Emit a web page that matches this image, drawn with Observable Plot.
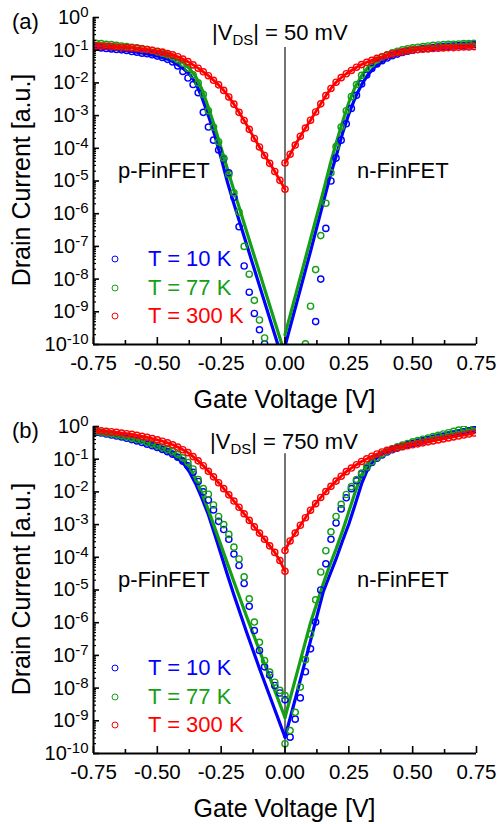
<!DOCTYPE html>
<html><head><meta charset="utf-8">
<script src="https://cdn.jsdelivr.net/npm/d3@7"></script>
<script src="https://cdn.jsdelivr.net/npm/@observablehq/plot@0.6"></script>
<style>
body{margin:0;background:#fff;}
#fig{position:relative;width:499px;height:824px;overflow:hidden;font-family:"Liberation Sans",Arial,sans-serif;color:#000;}
.panel{position:absolute;left:0;}
.t{position:absolute;white-space:nowrap;line-height:1;font-size:22px;}
.ttl{position:absolute;white-space:nowrap;line-height:1;font-size:25px;transform:translate(-50%,-50%);}
.ttl.rot{transform:translate(-50%,-50%) rotate(-90deg);}
.sub{font-size:15px;position:relative;top:5px;}
.lg{position:absolute;width:5px;height:5px;border-radius:50%;border:1.4px solid;transform:translate(-50%,-50%);}
</style>
</head><body>
<div id="fig">
  <div id="pa" class="panel" style="top:0px"></div>
  <div id="pb" class="panel" style="top:410px"></div>
</div>
<script>
// ---------- tick labels ----------
const xMajor = [-0.75, -0.5, -0.25, 0, 0.25, 0.5, 0.75];
const xMinor = [-0.625, -0.375, -0.125, 0.125, 0.375, 0.625];
const yMajorExp = [0, -1, -2, -3, -4, -5, -6, -7, -8, -9, -10];
const yMinorMant = [2, 3, 4, 5, 6, 7, 8, 9];

// ---------- gate voltage grids ----------
const vP = [-0.74,-0.72,-0.70,-0.68,-0.66,-0.64,-0.62,-0.60,-0.58,-0.56,-0.54,-0.52,-0.50,-0.48,-0.46,-0.44,-0.42,-0.40,-0.38,-0.36,-0.34,-0.32,-0.30,-0.28,-0.26,-0.24,-0.22,-0.20,-0.18,-0.16,-0.14,-0.12,-0.10,-0.08,-0.06,-0.04,-0.02,0.00];
const vN = [0.00,0.02,0.04,0.06,0.08,0.10,0.12,0.14,0.16,0.18,0.20,0.22,0.24,0.26,0.28,0.30,0.32,0.34,0.36,0.38,0.40,0.42,0.44,0.46,0.48,0.50,0.52,0.54,0.56,0.58,0.60,0.62,0.64,0.66,0.68,0.70,0.72,0.74];
const lineVP = [-0.75,-0.70,-0.65,-0.60,-0.55,-0.50,-0.45,-0.40,-0.375,-0.35,-0.325,-0.30,-0.275,-0.25,-0.225,-0.20,-0.15,-0.10,-0.05,0];
const lineVN = [0,0.05,0.10,0.15,0.175,0.20,0.225,0.25,0.275,0.30,0.325,0.35,0.375,0.40,0.45,0.50,0.55,0.60,0.65,0.70,0.75];

// ---------- panel (a): |VDS| = 50 mV, log10(drain current) ----------
const aRedP = [-0.86,-0.87,-0.88,-0.89,-0.90,-0.91,-0.92,-0.93,-0.945,-0.96,-0.98,-1.00,-1.03,-1.06,-1.10,-1.14,-1.20,-1.27,-1.35,-1.45,-1.55,-1.66,-1.78,-1.92,-2.06,-2.23,-2.43,-2.65,-2.90,-3.15,-3.42,-3.70,-3.96,-4.22,-4.46,-4.71,-4.98,-5.25];
const aRedN = [-4.45,-4.18,-3.90,-3.63,-3.38,-3.14,-2.89,-2.64,-2.39,-2.17,-1.98,-1.84,-1.72,-1.62,-1.52,-1.44,-1.37,-1.31,-1.25,-1.20,-1.15,-1.11,-1.08,-1.05,-1.02,-1.00,-0.98,-0.97,-0.96,-0.95,-0.94,-0.93,-0.92,-0.92,-0.91,-0.90,-0.90,-0.89];
const aBlueP = [-0.91,-0.93,-0.95,-0.96,-0.98,-0.99,-1.01,-1.04,-1.06,-1.09,-1.11,-1.14,-1.18,-1.22,-1.28,-1.36,-1.48,-1.65,-1.85,-2.05,-2.3,-2.9,-3.35,-3.75,-4.05,-4.32,-4.75,-5.5,-6.4,-7.6,-8.4,-9.05,-9.55,-9.98,null,null,null,null];
const aBlueN = [null,null,null,null,null,null,-9.3,-8.0,-6.45,-5.0,-4.3,-3.75,-3.25,-2.78,-2.38,-2.03,-1.76,-1.56,-1.42,-1.32,-1.24,-1.17,-1.12,-1.07,-1.03,-1.00,-0.98,-0.95,-0.94,-0.92,-0.90,-0.89,-0.88,-0.87,-0.86,-0.85,-0.84,-0.83];
const aGreenP = [-0.79,-0.80,-0.82,-0.83,-0.85,-0.87,-0.89,-0.91,-0.93,-0.96,-0.98,-1.01,-1.05,-1.09,-1.14,-1.21,-1.29,-1.40,-1.55,-1.75,-2.0,-2.35,-2.85,-3.35,-3.8,-4.3,-4.8,-5.36,-5.95,-7.0,-7.85,-8.65,-9.25,-9.8,null,null,null,null];
const aGreenN = [null,null,null,null,-9.98,-8.83,-7.71,-6.67,-5.68,-4.75,-3.95,-3.35,-2.85,-2.42,-2.05,-1.77,-1.56,-1.42,-1.30,-1.21,-1.14,-1.08,-1.03,-0.99,-0.96,-0.93,-0.91,-0.89,-0.87,-0.85,-0.84,-0.83,-0.82,-0.82,-0.81,-0.80,-0.80,-0.79];
const aBlueLineP = [-0.91,-0.95,-0.99,-1.04,-1.10,-1.18,-1.30,-1.55,-1.72,-2.0,-2.45,-3.0,-3.6,-4.3,-5.05,-5.7,-6.95,-8.2,-9.45,-10.7];
const aBlueLineN = [-10.05,-8.6,-7.15,-5.65,-4.9,-4.25,-3.55,-2.95,-2.45,-2.05,-1.75,-1.52,-1.37,-1.25,-1.10,-1.00,-0.94,-0.90,-0.87,-0.85,-0.83];
const aGreenLineP = [-0.79,-0.82,-0.86,-0.91,-0.97,-1.05,-1.17,-1.38,-1.55,-1.8,-2.2,-2.75,-3.35,-4.0,-4.65,-5.29,-6.55,-7.8,-9.05,-10.3];
const aGreenLineN = [-9.7,-8.24,-6.78,-5.32,-4.55,-3.85,-3.2,-2.6,-2.12,-1.78,-1.52,-1.36,-1.24,-1.14,-1.01,-0.93,-0.88,-0.84,-0.82,-0.80,-0.79];

// ---------- panel (b): |VDS| = 750 mV ----------
const bRedP = [-0.12,-0.13,-0.15,-0.16,-0.18,-0.20,-0.22,-0.24,-0.27,-0.30,-0.33,-0.37,-0.41,-0.45,-0.50,-0.56,-0.63,-0.71,-0.80,-0.92,-1.05,-1.20,-1.37,-1.54,-1.72,-1.90,-2.09,-2.28,-2.47,-2.67,-2.87,-3.07,-3.26,-3.45,-3.65,-3.85,-4.10,-4.43];
const bRedN = [-3.79,-3.50,-3.26,-3.02,-2.79,-2.56,-2.36,-2.17,-1.99,-1.83,-1.67,-1.52,-1.38,-1.27,-1.17,-1.07,-0.99,-0.91,-0.84,-0.78,-0.73,-0.69,-0.65,-0.62,-0.59,-0.56,-0.53,-0.50,-0.47,-0.44,-0.41,-0.38,-0.35,-0.32,-0.29,-0.26,-0.23,-0.20];
const bBlueP = [-0.18,-0.20,-0.23,-0.26,-0.29,-0.32,-0.36,-0.40,-0.44,-0.49,-0.54,-0.59,-0.64,-0.70,-0.77,-0.85,-0.94,-1.06,-1.20,-1.40,-1.68,-2.0,-2.25,-2.55,-2.9,-3.15,-3.45,-3.9,-4.25,-4.8,-5.5,-6.24,-6.85,-7.35,-7.6,-7.92,-8.15,-8.36];
const bBlueN = [null,-9.5,-8.95,-8.3,-7.5,-6.8,-5.98,-5.0,-4.2,-3.45,-2.95,-2.52,-2.18,-1.9,-1.66,-1.45,-1.27,-1.10,-0.97,-0.87,-0.78,-0.71,-0.66,-0.61,-0.56,-0.52,-0.48,-0.44,-0.40,-0.36,-0.33,-0.30,-0.26,-0.23,-0.20,-0.16,-0.13,-0.10];
const bGreenP = [-0.15,-0.17,-0.20,-0.22,-0.25,-0.28,-0.31,-0.35,-0.39,-0.43,-0.48,-0.53,-0.58,-0.64,-0.70,-0.77,-0.86,-0.96,-1.10,-1.30,-1.62,-1.90,-2.07,-2.40,-2.75,-3.0,-3.3,-3.69,-4.05,-4.6,-5.27,-5.98,-6.6,-7.16,-7.51,-7.82,-8.07,-8.23];
const bGreenN = [-9.7,-9.3,-8.74,-7.97,-7.13,-6.35,-5.3,-4.45,-3.8,-3.22,-2.75,-2.38,-2.08,-1.84,-1.62,-1.42,-1.24,-1.08,-0.95,-0.84,-0.75,-0.68,-0.62,-0.57,-0.52,-0.47,-0.43,-0.39,-0.35,-0.31,-0.27,-0.23,-0.19,-0.15,-0.11,-0.08,-0.04,-0.01];
const bBlueLineP = [-0.18,-0.24,-0.31,-0.40,-0.52,-0.65,-0.82,-1.10,-1.38,-1.75,-2.2,-2.7,-3.3,-3.92,-4.55,-5.15,-6.3,-7.4,-8.45,-9.5];
const bBlueLineN = [-9.5,-8.05,-6.55,-5.05,-4.55,-4.05,-3.5,-2.98,-2.38,-1.75,-1.28,-1.02,-0.87,-0.77,-0.63,-0.52,-0.43,-0.35,-0.26,-0.18,-0.10];
const bGreenLineP = [-0.15,-0.20,-0.27,-0.35,-0.45,-0.57,-0.72,-0.98,-1.22,-1.6,-2.05,-2.55,-3.1,-3.65,-4.2,-4.75,-5.82,-6.85,-7.87,-8.9];
const bGreenLineN = [-8.9,-7.45,-6.0,-4.8,-4.25,-3.75,-3.2,-2.6,-2.0,-1.48,-1.12,-0.93,-0.80,-0.70,-0.56,-0.45,-0.35,-0.26,-0.18,-0.10,-0.02];

const zeroLineTopExp = [-0.92, -0.83];
const temps = ["T = 10 K", "T = 77 K", "T = 300 K"];
const colors = ["#0000ff", "#14a014", "#ff0000"];
const panelLabels = ["(a)", "(b)"];
const vdsLabels = ["50 mV", "750 mV"];
const deviceLabels = ["p-FinFET", "n-FinFET"];

// ---------- helpers ----------
const rows = (vs, es) => vs.map((v, i) => ({v, I: es[i] == null ? null : Math.pow(10, es[i])})).filter(d => d.I != null);
const yMajor = yMajorExp.map(e => Math.pow(10, e));
const yMinor = yMajorExp.slice(1).flatMap(e => yMinorMant.map(m => m * Math.pow(10, e)));

const W = 499, ML = 93, MR = 23;
function makePanel(P, H, mt, mb, zeroTop) {
  const R = 3.1, SW = 1.4, LW = 3.2;
  const fw = W - ML - MR, fh = H - mt - mb;
  const marks = [
    Plot.ruleX([0], {y1: Math.pow(10, zeroTop), y2: yMajor[yMajor.length - 1], stroke: "#000", strokeWidth: 1.1})
  ];
  P.sim.forEach((s, k) => {
    marks.push(Plot.line(rows(lineVP, s.lineP), {x: "v", y: "I", stroke: colors[k], strokeWidth: LW, clip: true}));
    marks.push(Plot.line(rows(lineVN, s.lineN), {x: "v", y: "I", stroke: colors[k], strokeWidth: LW, clip: true}));
  });
  P.sim.forEach((s, k) => {
    marks.push(Plot.dot(rows(vP, s.p), {x: "v", y: "I", r: R, stroke: colors[k], strokeWidth: SW, fill: "none", clip: true}));
    marks.push(Plot.dot(rows(vN, s.n), {x: "v", y: "I", r: R, stroke: colors[k], strokeWidth: SW, fill: "none", clip: true}));
  });
  marks.push(Plot.line(rows(vP, P.red.p), {x: "v", y: "I", stroke: colors[2], strokeWidth: 2.8, clip: true}));
  marks.push(Plot.line(rows(vN, P.red.n), {x: "v", y: "I", stroke: colors[2], strokeWidth: 2.8, clip: true}));
  marks.push(Plot.dot(rows(vP, P.red.p), {x: "v", y: "I", r: R, stroke: colors[2], strokeWidth: SW, fill: "none", clip: true}));
  marks.push(Plot.dot(rows(vN, P.red.n), {x: "v", y: "I", r: R, stroke: colors[2], strokeWidth: SW, fill: "none", clip: true}));
  // inward tick marks
  marks.push(
    Plot.tickX(xMajor, {x: d => d, insetTop: fh - 7, stroke: "#000", strokeWidth: 1.6}),
    Plot.tickX(xMinor, {x: d => d, insetTop: fh - 4, stroke: "#000", strokeWidth: 1.6}),
    Plot.tickY(yMajor, {y: d => d, insetRight: fw - 6, stroke: "#000", strokeWidth: 1.6}),
    Plot.tickY(yMinor, {y: d => d, insetRight: fw - 3, stroke: "#000", strokeWidth: 1.2}),
    Plot.axisX({ticks: xMajor, tickSize: 0, tickPadding: 11, tickFormat: d => d.toFixed(2), fontSize: 20.5}),
    Plot.axisY({ticks: yMajor, tickSize: 0, tickPadding: 5, tickFormat: d => String(Math.round(Math.log10(d))), fontSize: 20}),
    Plot.ruleX([xMajor[0]], {stroke: "#000", strokeWidth: 2}),
    Plot.ruleY([yMajor[yMajor.length - 1]], {stroke: "#000", strokeWidth: 2})
  );
  const svg = Plot.plot({
    width: W, height: H,
    marginLeft: ML, marginRight: MR, marginTop: mt, marginBottom: mb,
    style: {fontFamily: '"Liberation Sans", Arial, sans-serif', color: "#000", background: "none", overflow: "visible"},
    x: {domain: [xMajor[0], xMajor[xMajor.length - 1]], label: null},
    y: {type: "log", domain: [yMajor[yMajor.length - 1], yMajor[0]], label: null},
    marks
  });
  const ns = "http://www.w3.org/2000/svg";
  svg.querySelectorAll('g[aria-label="y-axis tick label"] text').forEach(t => {
    const e = t.textContent;
    if (!e) return;
    t.textContent = "";
    const a = document.createElementNS(ns, "tspan"); a.textContent = "10";
    const b = document.createElementNS(ns, "tspan"); b.setAttribute("dy", "-7"); b.setAttribute("font-size", "15"); b.textContent = e;
    t.append(a, b);
  });
  return svg;
}

const panelA = {
  sim: [{p: aBlueP, n: aBlueN, lineP: aBlueLineP, lineN: aBlueLineN},
        {p: aGreenP, n: aGreenN, lineP: aGreenLineP, lineN: aGreenLineN}],
  red: {p: aRedP, n: aRedN}
};
const panelB = {
  sim: [{p: bBlueP, n: bBlueN, lineP: bBlueLineP, lineN: bBlueLineN},
        {p: bGreenP, n: bGreenN, lineP: bGreenLineP, lineN: bGreenLineN}],
  red: {p: bRedP, n: bRedN}
};
document.getElementById("pa").append(makePanel(panelA, 410, 17, 66, zeroLineTopExp[0]));
document.getElementById("pb").append(makePanel(panelB, 414, 16, 71, zeroLineTopExp[1]));

// ---------- text overlays ----------
const fig = document.getElementById("fig");
function addDiv(cls, html, style) {
  const d = document.createElement("div");
  d.className = cls; d.innerHTML = html;
  Object.assign(d.style, style);
  fig.append(d);
  return d;
}
const offsets = [0, 409];
offsets.forEach((o, i) => {
  addDiv("t", panelLabels[i], {left: "12px", top: (o + 11) + "px"});
  addDiv("t", '|V<span class="sub">DS</span>| = ' + vdsLabels[i], {left: (i ? 210 : 212) + "px", top: (o + 22) + "px"});
  addDiv("t", deviceLabels[0], {left: "118px", top: (o + 160) + "px"});
  addDiv("t", deviceLabels[1], {left: "357px", top: (o + 160) + "px"});
  addDiv("ttl", "Gate Voltage [V]", {left: "284.5px", top: (o + 399) + "px"});
  addDiv("ttl rot", "Drain Current [a.u.]", {left: "21px", top: (o + 180) + "px"});
  temps.forEach((tt, k) => {
    const cy = o + 259 + k * 28.5;
    addDiv("lg", "", {left: "115px", top: cy + "px", borderColor: colors[k]});
    addDiv("t", tt, {left: "148px", top: (cy - 11) + "px", color: colors[k]});
  });
});
</script>
</body></html>
